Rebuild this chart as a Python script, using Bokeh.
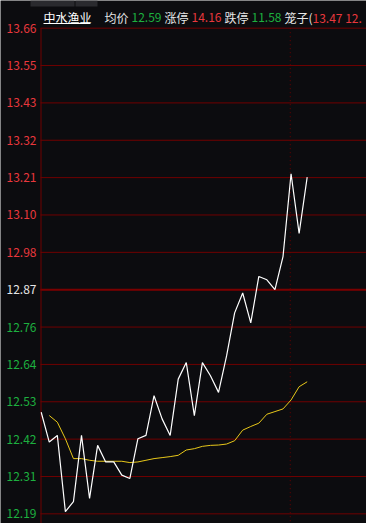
from bokeh.plotting import figure
from bokeh.models import Range1d, ColumnDataSource
from bokeh.core.properties import value
from bokeh.embed import file_html
from bokeh.resources import INLINE

# ---------------- data ----------------
stock_name = "中水渔业"
prev_close = 12.87
avg_now = "12.59"
limit_up = "14.16"
limit_down = "11.58"
cage_text = "13.47 12."

price = [12.50, 12.41, 12.43, 12.20, 12.23, 12.43, 12.24, 12.40, 12.35, 12.35,
         12.31, 12.30, 12.42, 12.43, 12.55, 12.48, 12.43, 12.60, 12.65, 12.49,
         12.65, 12.61, 12.56, 12.67, 12.80, 12.86, 12.77, 12.91, 12.90, 12.87,
         12.97, 13.22, 13.04, 13.21]
avg_price = [float("nan"), 12.49, 12.47, 12.42, 12.36, 12.36, 12.355, 12.352, 12.352, 12.352,
             12.352, 12.348, 12.350, 12.355, 12.360, 12.363, 12.366, 12.370, 12.386, 12.390,
             12.397, 12.400, 12.401, 12.404, 12.414, 12.446, 12.457, 12.467, 12.494, 12.502,
             12.510, 12.537, 12.577, 12.592]
marker_index = 31

tick_labels = ["13.66", "13.55", "13.43", "13.32", "13.21", "13.10", "12.98",
               "12.87", "12.76", "12.64", "12.53", "12.42", "12.31", "12.19"]
grid_step = 0.1128
tick_steps = [7, 6, 5, 4, 3, 2, 1, 0, -1, -2, -3, -4, -5, -6]

# ---------------- styles ----------------
BG = "#0c0c0f"
GRID = "#700000"
RED = "#e8383d"
GREEN = "#1db03f"
WHITE = "#e6e6e6"
YELLOW = "#e8c81a"
FONT = "Noto Sans CJK SC"

W, H = 366, 523
LEFT, TOP = 40, 27.7          # plot-area edges in page pixels
x = list(range(len(price)))
tick_values = [prev_close + k * grid_step for k in tick_steps]
tick_colors = [RED if k > 0 else (WHITE if k == 0 else GREEN) for k in tick_steps]

# scales: index 0 at px 40.7, 8.06 px per step; 12.87 at px 289.2, 331.2 px per yuan
px_per_x, x0_px = 8.06, 40.7
px_per_y, mid_px = 331.2, 289.2
x_range = Range1d(-x0_px / px_per_x, (W - x0_px) / px_per_x)
y_range = Range1d(prev_close - (H - mid_px) / px_per_y, prev_close + mid_px / px_per_y)
x_left = x_range.start + LEFT / px_per_x

p = figure(width=W, height=H, x_range=x_range, y_range=y_range,
           x_axis_type=None, y_axis_type=None, min_border=0,
           background_fill_color=BG, border_fill_color=BG, outline_line_color=None,
           toolbar_location=None, output_backend="svg")
p.grid.visible = False
p.extra_x_ranges = {"px": Range1d(0, W)}
p.extra_y_ranges = {"px": Range1d(H, 0)}

# grid lines
p.segment(x0=x_left, x1=x_range.end, y0=tick_values, y1=tick_values,
          line_color=GRID, line_width=1)
p.segment(x0=[x_left], x1=[x_range.end], y0=[prev_close], y1=[prev_close],
          line_color="#7a0000", line_width=2)
# left border
p.segment(x0=[LEFT + 0.5], x1=[LEFT + 0.5], y0=[TOP], y1=[H], x_range_name="px",
          y_range_name="px", line_color=GRID, line_width=1)
# dotted time marker
p.segment(x0=[marker_index - 0.1], x1=[marker_index - 0.1], y0=[TOP], y1=[H],
          y_range_name="px", line_color="#6a0000", line_width=1, line_dash="1 3")

src = ColumnDataSource(dict(x=x, price=price, avg=avg_price))
p.line("x", "avg", source=src, line_color=YELLOW, line_width=1)
p.line("x", "price", source=src, line_color="#ffffff", line_width=1.2)

# y tick labels
p.text(x=[36] * len(tick_values), y=tick_values, text=tick_labels, x_range_name="px",
       text_color=tick_colors, text_align="right", text_baseline="middle",
       text_font=value(FONT), text_font_size="12px")

# header
hdr_text = [stock_name, "均价", avg_now, "涨停", limit_up, "跌停", limit_down, "笼子(", cage_text]
hdr_x = [43, 104, 131, 164, 191, 224, 251, 284, 312]
hdr_col = ["#ffffff", WHITE, GREEN, WHITE, RED, WHITE, GREEN, WHITE, RED]
p.text(x=hdr_x, y=[17] * len(hdr_x), text=hdr_text, text_color=hdr_col,
       x_range_name="px", y_range_name="px", text_align="left", text_baseline="middle",
       text_font=value(FONT), text_font_size="12px")
p.segment(x0=[43], x1=[90], y0=[23], y1=[23], x_range_name="px", y_range_name="px",
          line_color="#ffffff", line_width=1)
# tabs
p.quad(left=[30, 75], right=[74, 97], top=[0, 0], bottom=[6, 6], x_range_name="px",
       y_range_name="px", fill_color="#2a2a2e", line_color=None)

open("out.html", "w").write(file_html(p, INLINE))
